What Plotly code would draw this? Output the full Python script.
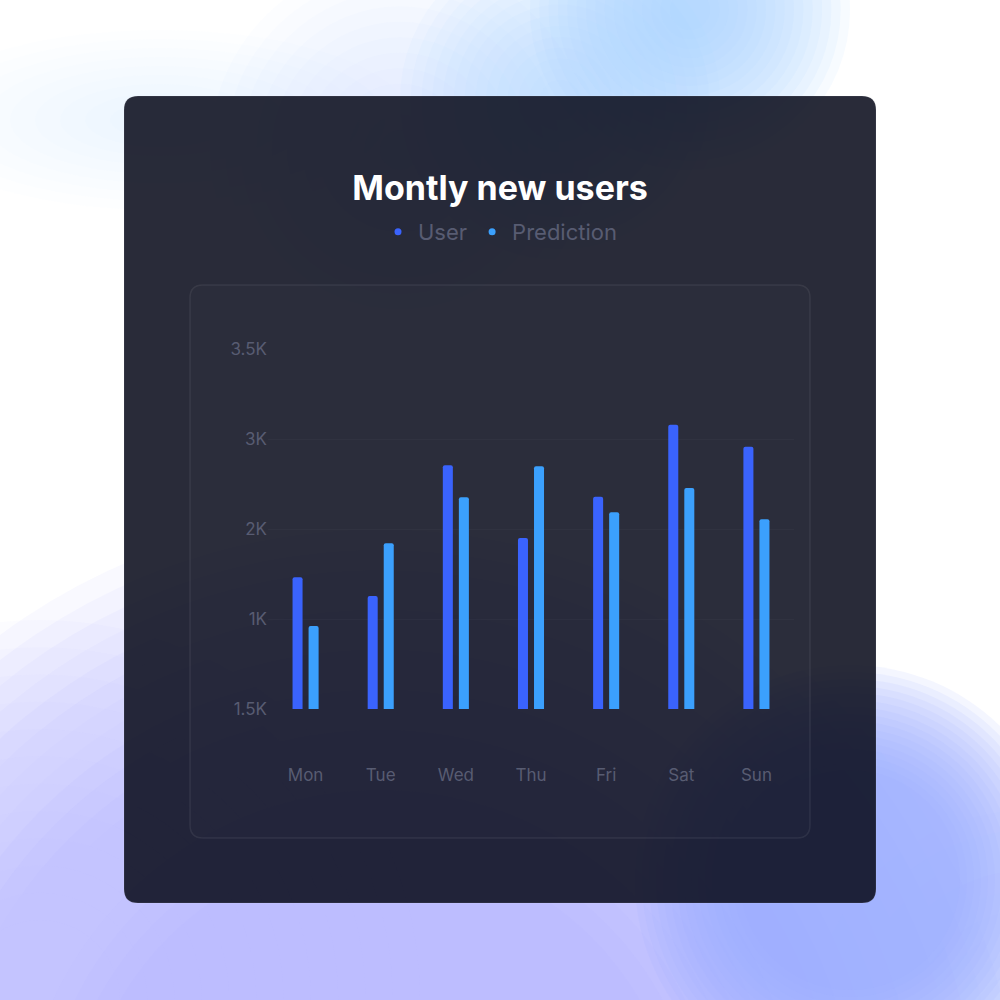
import plotly.graph_objects as go

days = ["Mon", "Tue", "Wed", "Thu", "Fri", "Sat", "Sun"]
user = [1463, 1256, 2708, 1900, 2359, 3159, 2915]
prediction = [922, 1841, 2352, 2696, 2186, 2456, 2108]
tick_vals = [0, 1000, 2000, 3000, 4000]
tick_text = ["1.5K", "1K", "2K", "3K", "3.5K"]

USER_COLOR = "#3a63fd"
PRED_COLOR = "#3ba0fd"
MUTED = "#585c72"


def px_x(v):
    return v / 1000


def px_y(v):
    return 1 - v / 1000


def rounded_rect(x0, y0, x1, y1, r):
    """圆角矩形 path (像素坐标 -> paper)"""
    X = px_x
    Y = px_y
    return (
        f"M {X(x0 + r)} {Y(y0)} L {X(x1 - r)} {Y(y0)} "
        f"Q {X(x1)} {Y(y0)} {X(x1)} {Y(y0 + r)} "
        f"L {X(x1)} {Y(y1 - r)} Q {X(x1)} {Y(y1)} {X(x1 - r)} {Y(y1)} "
        f"L {X(x0 + r)} {Y(y1)} Q {X(x0)} {Y(y1)} {X(x0)} {Y(y1 - r)} "
        f"L {X(x0)} {Y(y0 + r)} Q {X(x0)} {Y(y0)} {X(x0 + r)} {Y(y0)} Z"
    )


def glow(cx, cy, r_in, r_out, color, steps, alpha, sx=1.0, sy=1.0):
    """用叠加的半透明椭圆模拟模糊光斑"""
    shapes = []
    for i in range(steps):
        r = r_out - (r_out - r_in) * i / max(steps - 1, 1)
        shapes.append(dict(
            type="circle", xref="paper", yref="paper", layer="below",
            x0=px_x(cx - r * sx), x1=px_x(cx + r * sx),
            y0=px_y(cy + r * sy), y1=px_y(cy - r * sy),
            fillcolor=color, opacity=alpha, line=dict(width=0),
        ))
    return shapes


fig = go.Figure()

# 柱子
fig.add_trace(go.Bar(x=days, y=user, name="User", marker_color=USER_COLOR,
                     marker_line_width=0, showlegend=False, hoverinfo="skip"))
fig.add_trace(go.Bar(x=days, y=prediction, name="Prediction", marker_color=PRED_COLOR,
                     marker_line_width=0, showlegend=False, hoverinfo="skip"))

# 图例用圆点
for name, color in [("User", USER_COLOR), ("Prediction", PRED_COLOR)]:
    fig.add_trace(go.Scatter(x=[None], y=[None], mode="markers", name=name,
                             marker=dict(color=color, size=7)))

# 背景光斑
shapes = []
shapes += glow(160, 120, 20, 200, "#dcebff", 10, 0.05, sx=1.25, sy=0.45)
shapes += glow(400, 150, 20, 190, "#c6e0ff", 12, 0.06)
shapes += glow(560, 100, 20, 160, "#b0d4ff", 14, 0.08)
shapes += glow(690, 10, 20, 160, "#a6cfff", 16, 0.09)
shapes += glow(380, 1150, 300, 640, "#b0a4fa", 18, 0.07)
shapes += glow(40, 1000, 80, 380, "#cbc2fc", 12, 0.05)
shapes += glow(1030, 1030, 40, 220, "#d4defd", 10, 0.07)
shapes += glow(850, 880, 110, 215, "#98acff", 16, 0.11)

# 卡片 & 内面板
shapes.append(dict(type="path", path=rounded_rect(124, 96, 876, 903, 14),
                   xref="paper", yref="paper", layer="below",
                   fillcolor="rgba(9,12,27,0.87)",
                   line=dict(color="rgba(255,255,255,0.10)", width=1)))
shapes.append(dict(type="path", path=rounded_rect(190, 285, 810, 838, 13),
                   xref="paper", yref="paper", layer="below",
                   fillcolor="rgba(255,255,255,0.012)",
                   line=dict(color="rgba(255,255,255,0.07)", width=1.5)))

fig.update_layout(
    width=1000,
    height=1000,
    margin=dict(l=0, r=0, t=0, b=0, pad=0),
    paper_bgcolor="#ffffff",
    plot_bgcolor="rgba(0,0,0,0)",
    font=dict(family="Inter, Roboto, sans-serif", color=MUTED),
    shapes=shapes,
    barmode="group",
    bargap=0.573,
    bargroupgap=0.375,
    barcornerradius=2,
    title=dict(
        text="<b>Montly new users</b>",
        x=0.5, xanchor="center", y=1 - 188 / 1000, yanchor="middle",
        font=dict(size=34, color="#ffffff", family="Inter, sans-serif"),
    ),
    legend=dict(
        orientation="h", x=0.5, xanchor="center", y=1 - 232 / 1000, yanchor="middle",
        font=dict(size=22, color=MUTED), bgcolor="rgba(0,0,0,0)",
        itemwidth=30, traceorder="normal",
    ),
    xaxis=dict(
        domain=[0.268, 0.794],
        showgrid=False, zeroline=False, showline=False, ticks="",
        tickfont=dict(size=17, color=MUTED),
        ticklabelstandoff=54,
        automargin=False,
        fixedrange=True,
    ),
    yaxis=dict(
        domain=[1 - 709 / 1000, 1 - 349 / 1000],
        range=[0, 4000],
        tickvals=tick_vals, ticktext=tick_text,
        showgrid=True, gridcolor="rgba(255,255,255,0.028)", gridwidth=1,
        zeroline=False, showline=False, ticks="",
        tickfont=dict(size=17, color=MUTED),
        automargin=False,
        fixedrange=True,
    ),
)

fig.write_html("out.html", config={"displayModeBar": False},
               post_script="document.body.style.margin='0';")
